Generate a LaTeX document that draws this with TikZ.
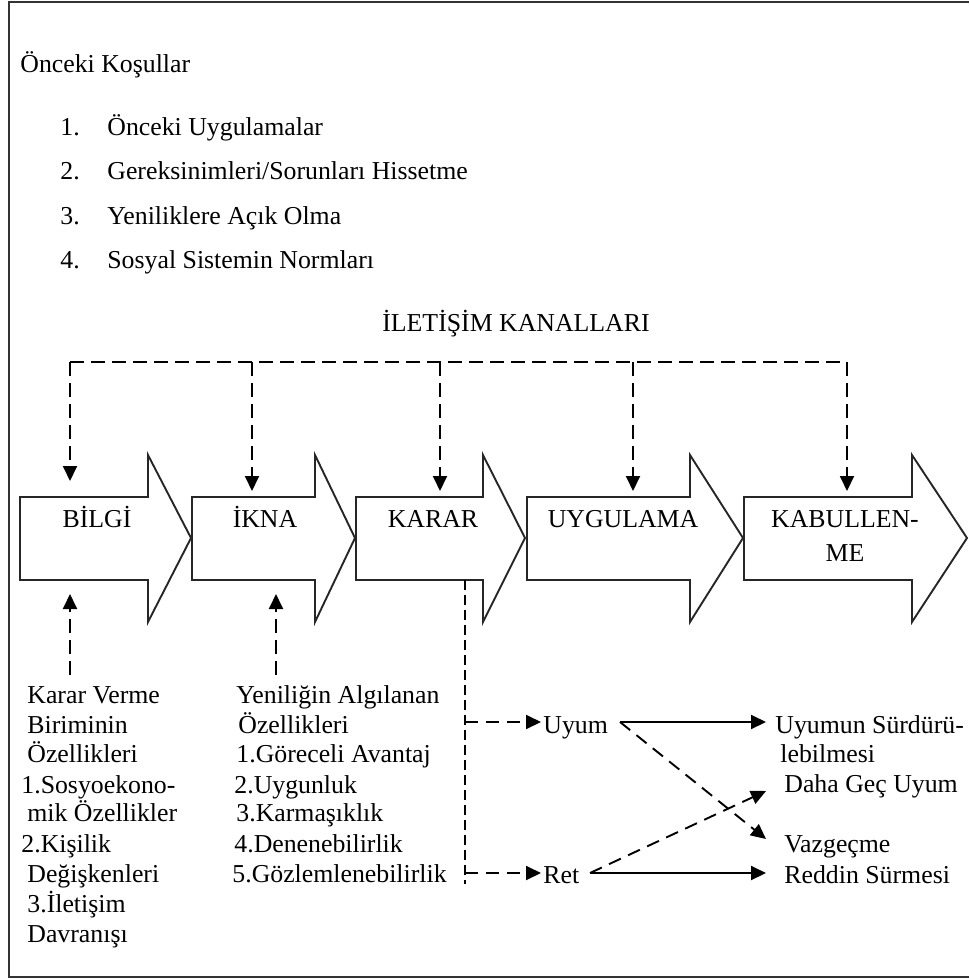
\documentclass[tikz,border=0pt]{standalone}
\usepackage{fontspec}
\setmainfont{Liberation Serif}
\usetikzlibrary{arrows.meta}

\tikzset{
  txt/.style={inner sep=0pt, anchor=base west, font=\fontsize{12.9}{15}\selectfont},
  ctxt/.style={inner sep=0pt, anchor=base, font=\fontsize{12.9}{15}\selectfont},
  stageline/.style={draw=black!85, line width=0.95pt, line join=miter},
  tip/.style={-{Triangle[width=7pt,length=7.5pt]}},
  chan/.style={line width=0.95pt, dash pattern=on 7pt off 3.5pt},
  thin dash/.style={line width=0.65pt, dash pattern=on 5pt off 2.5pt},
  out dash/.style={line width=0.95pt, dash pattern=on 6.5pt off 4pt},
  solidline/.style={line width=1pt},
}

\begin{document}
\begin{tikzpicture}[x=0.5pt, y=-0.5pt]
\useasboundingbox (0,0) rectangle (969,979);

% outer frame (open on the right)
\draw[draw=black!80, line width=0.9pt] (969,2) -- (9,2) -- (9,977) -- (969,977);

% antecedents
\node[txt] (prior) at (20,73) {Önceki Koşullar};
\node[txt] (n1) at (60,135) {1.};
\node[txt] (p1) at (107,135) {Önceki Uygulamalar};
\node[txt] (n2) at (60,179) {2.};
\node[txt] (p2) at (107,179) {Gereksinimleri/Sorunları Hissetme};
\node[txt] (n3) at (60,224) {3.};
\node[txt] (p3) at (107,224) {Yeniliklere Açık Olma};
\node[txt] (n4) at (60,268) {4.};
\node[txt] (p4) at (107,268) {Sosyal Sistemin Normları};

% communication channels
\node[ctxt] (kanal) at (516,331) {İLETİŞİM KANALLARI};

% stage block arrows
\foreach \l/\s/\t in {20/148/191, 192/315/355, 356/483/525, 527/690/743, 744/912/967}
  \draw[stageline] (\l,497) -- (\s,497) -- (\s,455) -- (\t,538) -- (\s,622) -- (\s,580) -- (\l,580) -- cycle;

\node[ctxt] (bilgi) at (97,527) {BİLGİ};
\node[ctxt] (ikna) at (265,527) {İKNA};
\node[ctxt] (karar) at (433,527) {KARAR};
\node[ctxt] (uygulama) at (623,527) {UYGULAMA};
\node[ctxt] (kabul) at (845,527) {KABULLEN-};
\node[ctxt] (kabulb) at (845,561) {ME};

% channel bus and drops
\coordinate (b1) at (70,362);
\coordinate (b2) at (252,362);
\coordinate (b3) at (440,362);
\coordinate (b4) at (633,362);
\coordinate (b5) at (847,362);
\coordinate (s1) at (70,481);
\coordinate (s2) at (252,491);
\coordinate (s3) at (440,491);
\coordinate (s4) at (633,491);
\coordinate (s5) at (847,491);
\draw[chan] (b1) -- (b5);
\foreach \i in {1,...,5} \draw[chan, tip] (b\i) -- (s\i);

% decision-making unit characteristics
\node[txt] (l1) at (27,703) {Karar Verme};
\node[txt] (l2) at (27,733) {Biriminin};
\node[txt] (l3) at (27,762) {Özellikleri};
\node[txt] (l4) at (21,793) {1.Sosyoekono-};
\node[txt] (l5) at (27,821) {mik Özellikler};
\node[txt] (l6) at (21,852) {2.Kişilik};
\node[txt] (l7) at (27,882) {Değişkenleri};
\node[txt] (l8) at (27,912) {3.İletişim};
\node[txt] (l9) at (27,942) {Davranışı};

% perceived characteristics of the innovation
\node[txt] (m1) at (236,703) {Yeniliğin Algılanan};
\node[txt] (m2) at (238,733) {Özellikleri};
\node[txt] (m3) at (236,762) {1.Göreceli Avantaj};
\node[txt] (m4) at (234,793) {2.Uygunluk};
\node[txt] (m5) at (236,821) {3.Karmaşıklık};
\node[txt] (m6) at (234,852) {4.Denenebilirlik};
\node[txt] (m7) at (232,882) {5.Gözlemlenebilirlik};

\coordinate (u1) at (70,675);
\coordinate (t1) at (70,594);
\coordinate (u2) at (276,675);
\coordinate (t2) at (276,594);
\draw[chan, tip] (u1) -- (t1);
\draw[chan, tip] (u2) -- (t2);

% decision outcomes
\node[txt] (uyum) at (543,733) {Uyum};
\node[txt] (ret) at (543,883) {Ret};
\node[txt] (r1) at (775,733) {Uyumun Sürdürü-};
\node[txt] (r1b) at (780,762) {lebilmesi};
\node[txt] (r2) at (784,792) {Daha Geç Uyum};
\node[txt] (r3) at (784,852) {Vazgeçme};
\node[txt] (r4) at (784,883) {Reddin Sürmesi};

\coordinate (kd0) at (465,580);
\coordinate (kd1) at (465,722);
\coordinate (kd2) at (465,873);
\coordinate (kd3) at (465,884);
\coordinate (ua) at (541,722);
\coordinate (ra) at (541,873);
\draw[thin dash] (kd0) -- (kd3);
\draw[out dash, tip] (kd1) -- (ua);
\draw[out dash, tip] (kd2) -- (ra);

\coordinate (uo) at (620,722);
\coordinate (ro) at (590,873);
\coordinate (e1) at (766,722);
\coordinate (e2) at (766,791);
\coordinate (e3) at (766,839);
\coordinate (e4) at (766,873);
\draw[solidline, tip] (uo) -- (e1);
\draw[out dash, tip] (uo) -- (e3);
\draw[out dash, tip] (ro) -- (e2);
\draw[solidline, tip] (ro) -- (e4);
\end{tikzpicture}
\end{document}
